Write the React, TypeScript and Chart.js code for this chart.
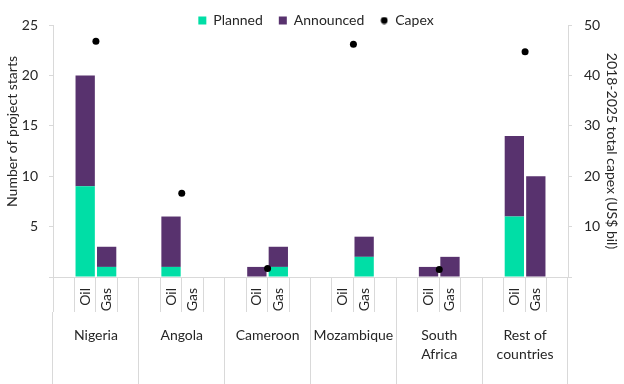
import React, { useEffect, useRef } from 'react';
import { Chart, registerables } from 'chart.js';

Chart.register(...registerables);

// ---- data ----
const countries: (string | string[])[] = ['Nigeria', 'Angola', 'Cameroon', 'Mozambique', ['South', 'Africa'], ['Rest of', 'countries']];
const fuelSlots = ['', 'Oil', 'Gas', ''];
const oilPlanned = [9, 1, 0, 0, 0, 6];
const oilAnnounced = [11, 5, 1, 0, 1, 8];
const gasPlanned = [1, 0, 1, 2, 0, 0];
const gasAnnounced = [2, 0, 2, 2, 2, 10];
const capex = [46.8, 16.6, 1.7, 46.2, 1.5, 44.7];
const leftTitleText = 'Number of project starts';
const rightTitleText = '2018-2025 total capex (US$ bil)';

// ---- style ----
const FONT = 'Lato';
const TEXT = '#262626';
const AXIS = '#d9d9d9';
const PLANNED = '#00DEA6';
const ANNOUNCED = '#58326E';

const slotLabels = countries.flatMap(() => fuelSlots);
const plannedSlots = countries.flatMap((_, i) => [null, oilPlanned[i], gasPlanned[i], null]);
const announcedSlots = countries.flatMap((_, i) => [null, oilAnnounced[i], gasAnnounced[i], null]);

const hideZero = (v: any) => (Number(v) === 0 ? '' : String(v));

export default function App() {
  const ref = useRef<HTMLCanvasElement | null>(null);

  useEffect(() => {
    if (!ref.current) return;
    const dot = document.createElement('canvas');
    dot.width = 8;
    dot.height = 8;
    const dctx = dot.getContext('2d')!;
    dctx.fillStyle = '#000';
    dctx.beginPath();
    dctx.arc(4, 4, 3.4, 0, Math.PI * 2);
    dctx.fill();

    const legendFit = {
      id: 'legendFit',
      beforeLayout(chart: any) {
        const lg = chart.legend;
        if (lg && !lg.__patched) {
          const orig = lg.fit.bind(lg);
          lg.fit = function () {
            orig();
            this.height = 25;
          };
          lg.__patched = true;
        }
      },
      afterLayout(chart: any) {
        const lg = chart.legend;
        if (lg) {
          lg.top -= 2.5;
          lg.bottom = lg.top + 40;
          lg.left += 4;
          lg.right += 4;
        }
      },
    };

    const leftTitle = {
      id: 'leftTitle',
      afterDraw(chart: any) {
        const ctx = chart.ctx;
        ctx.save();
        ctx.translate(12.5, 131.5);
        ctx.rotate(-Math.PI / 2);
        ctx.font = `14px ${FONT}`;
        ctx.fillStyle = TEXT;
        ctx.textAlign = 'center';
        ctx.textBaseline = 'middle';
        ctx.fillText(leftTitleText, 0, 0);
        ctx.restore();
      },
    };

    const barCommon = {
      borderWidth: 0,
      pointStyle: 'rect',
      stack: 's',
      order: 1,
      grouped: false,
      categoryPercentage: 1,
      barPercentage: 0.9,
    };

    const chart = new Chart(ref.current, {
      type: 'bar',
      data: {
        labels: slotLabels,
        datasets: [
          { label: 'Planned', data: plannedSlots as any, backgroundColor: PLANNED, ...barCommon } as any,
          { label: 'Announced', data: announcedSlots as any, backgroundColor: ANNOUNCED, ...barCommon } as any,
          {
            type: 'line',
            label: 'Capex',
            data: capex,
            xAxisID: 'x2',
            yAxisID: 'y2',
            showLine: false,
            pointStyle: 'circle',
            pointRadius: 3.5,
            pointBackgroundColor: '#000',
            pointBorderWidth: 0,
            backgroundColor: '#000',
            borderColor: '#000',
            borderWidth: 0,
            order: 0,
          } as any,
        ],
      },
      options: {
        animation: false,
        responsive: true,
        maintainAspectRatio: false,
        layout: { padding: 0 },
        font: { family: FONT, size: 14 },
        color: TEXT,
        plugins: {
          tooltip: { enabled: false },
          legend: {
            position: 'top',
            labels: {
              usePointStyle: true,
              boxWidth: 8,
              boxHeight: 8,
              padding: 16,
              color: TEXT,
              font: { family: FONT, size: 14 },
              generateLabels: (c: any) => {
                const items = (Chart as any).defaults.plugins.legend.labels.generateLabels(c);
                items.sort((a: any, b: any) => a.datasetIndex - b.datasetIndex);
                items.forEach((it: any) => {
                  if (it.datasetIndex === 2) it.pointStyle = dot;
                });
                return items;
              },
            },
          },
        },
        scales: {
          x: {
            type: 'category',
            stacked: true,
            offset: true,
            weight: 0,
            grid: { offset: true, drawOnChartArea: false, drawTicks: true, tickLength: 35, color: AXIS },
            border: { color: AXIS },
            ticks: { autoSkip: false, minRotation: 90, maxRotation: 90, padding: -24, color: TEXT, font: { family: FONT, size: 14 } },
            afterFit: (s: any) => {
              s.height = 35;
            },
          },
          x2: {
            type: 'category',
            labels: countries as any,
            offset: true,
            position: 'bottom',
            weight: 1,
            grid: { offset: true, drawOnChartArea: false, drawTicks: true, tickLength: 72, color: AXIS },
            border: { display: false },
            ticks: { autoSkip: false, maxRotation: 0, minRotation: 0, padding: -58, color: TEXT, font: { family: FONT, size: 14, lineHeight: 1.35 } },
            afterFit: (s: any) => {
              s.height = 72;
            },
          },
          y: {
            type: 'linear',
            position: 'left',
            stacked: true,
            min: 0,
            max: 25,
            ticks: { stepSize: 5, padding: 11, color: TEXT, font: { family: FONT, size: 14 }, callback: hideZero },
            grid: { drawOnChartArea: false, tickLength: 4, color: AXIS },
            border: { color: AXIS },
            afterFit: (s: any) => {
              s.width = 53;
            },
          },
          y2: {
            type: 'linear',
            position: 'right',
            min: 0,
            max: 50,
            ticks: { stepSize: 10, padding: 12, color: TEXT, font: { family: FONT, size: 14 }, callback: hideZero },
            grid: { drawOnChartArea: false, tickLength: 4, color: AXIS },
            border: { color: AXIS },
            title: { display: true, text: rightTitleText, color: TEXT, font: { family: FONT, size: 14 }, padding: { top: 4, bottom: 4 } },
            afterFit: (s: any) => {
              s.width = 56;
            },
          },
        },
      } as any,
      plugins: [legendFit, leftTitle],
    });
    return () => chart.destroy();
  }, []);

  return (
    <div style={{ position: 'absolute', left: 0, top: 0, width: 624, height: 384 }}>
      <canvas ref={ref} />
    </div>
  );
}
